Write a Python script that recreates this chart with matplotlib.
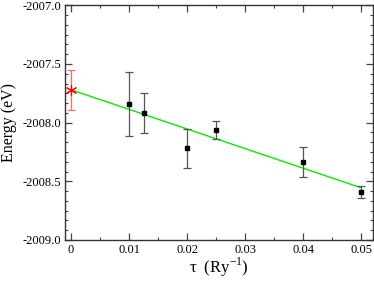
import numpy as np
import matplotlib
matplotlib.use("Agg")
import matplotlib.pyplot as plt
from matplotlib.ticker import AutoMinorLocator, FormatStrFormatter, FuncFormatter

# ==== Data ====
tau = [0.01, 0.0125, 0.02, 0.025, 0.04, 0.05]
energy = [-2007.84, -2007.92, -2008.22, -2008.06, -2008.335, -2008.59]
energy_err = [0.27, 0.17, 0.17, 0.077, 0.13, 0.05]

tau_zero = [0.0]
energy_zero = [-2007.72]
energy_zero_err = [0.17]

fit_tau = [0.0, 0.05]
fit_energy = [-2007.72, -2008.555]

plt.rcParams['font.family'] = ['Liberation Serif', 'DejaVu Serif']
plt.rcParams['mathtext.fontset'] = 'custom'
plt.rcParams['mathtext.rm'] = 'Liberation Serif'
plt.rcParams['axes.unicode_minus'] = False

fig = plt.figure(figsize=(3.74, 2.81), dpi=100)
ax = fig.add_axes([0.1746, 0.146, 0.822, 0.835])

ax.plot(fit_tau, fit_energy, color='#00ee00', linewidth=1.0, zorder=2)
ax.errorbar(tau, energy, yerr=energy_err, fmt='s', color='black', markersize=3.5,
            ecolor='#555555', elinewidth=0.9, capsize=3, capthick=0.9, zorder=3)
ax.errorbar(tau_zero, energy_zero, yerr=energy_zero_err, fmt='none',
            ecolor='#ff6b6b', elinewidth=0.9, capsize=3, capthick=0.9, zorder=3)
ax.plot(tau_zero, energy_zero, marker=(6, 2, 0), color='red', markersize=8,
        markeredgewidth=0.8, linestyle='none', clip_on=False, zorder=4)

ax.set_xlim(-0.001, 0.052)
ax.set_ylim(-2009.0, -2007.0)
ax.set_xticks([0, 0.01, 0.02, 0.03, 0.04, 0.05])
ax.set_yticks([-2009.0, -2008.5, -2008.0, -2007.5, -2007.0])
ax.xaxis.set_minor_locator(AutoMinorLocator(2))
ax.yaxis.set_minor_locator(AutoMinorLocator(6))
ax.xaxis.set_major_formatter(FuncFormatter(lambda v, p: f"{v:g}"))
ax.yaxis.set_major_formatter(FormatStrFormatter('%.1f'))

ax.tick_params(which='both', direction='in', top=True, right=True,
               labelsize=9, color='#444444', pad=3)
ax.tick_params(which='major', length=5, width=0.9)
ax.tick_params(which='minor', length=2.5, width=0.8)
for s in ax.spines.values():
    s.set_linewidth(1.0)
    s.set_color('#333333')

ax.set_xlabel(r"τ  (Ry$^{-1}$)", fontsize=12, labelpad=0)
ax.set_ylabel("Energy (eV)", fontsize=11.5, labelpad=4)

fig.savefig("out.png", dpi=100)
